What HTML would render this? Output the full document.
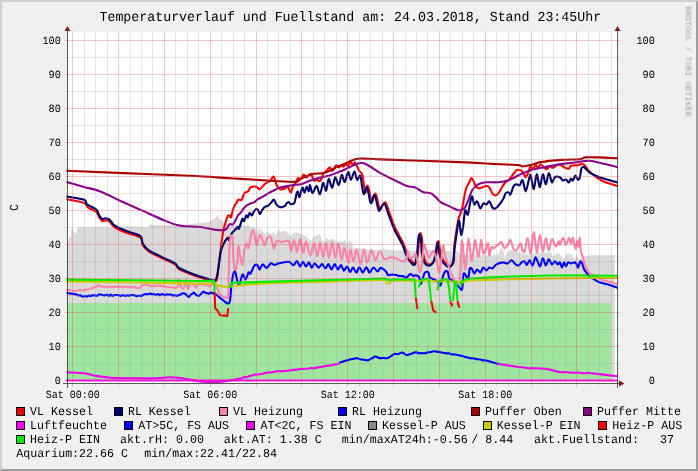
<!DOCTYPE html>
<html><head><meta charset="utf-8"><title>Temperaturverlauf</title>
<style>html,body{margin:0;padding:0;background:#f0f0f0;width:698px;height:471px;overflow:hidden}
text{font-family:"Liberation Mono",monospace}</style></head>
<body>
<div style="position:absolute;left:0;top:0;width:698px;height:471px">
<svg width="698" height="471" viewBox="0 0 698 471" style="display:block;position:absolute;left:0;top:0">
<rect x="0" y="0" width="698" height="471" fill="#f0f0f0"/>
<polygon points="0,0 698,0 696,2 2,2 2,469 0,471" fill="#cfcfcf"/>
<polygon points="698,0 698,471 0,471 2,469 696,469 696,2" fill="#9e9e9e"/>
<rect x="67" y="32" width="551" height="351" fill="#ffffff"/>
<clipPath id="cv"><rect x="66" y="32" width="552" height="352"/></clipPath>
<g clip-path="url(#cv)">
<path d="M67,380.5 L67.0,246.0 L69.2,237.9 L70.5,238.5 L71.4,229.3 L72.6,227.6 L74.3,232.2 L76.0,233.9 L77.2,228.8 L78.3,227.0 L90.0,227.3 L100.0,227.0 L110.0,227.5 L120.0,226.8 L130.0,226.5 L140.0,226.8 L148.0,227.5 L149.6,224.5 L162.9,225.2 L185.8,224.5 L199.6,223.3 L208.8,222.2 L214.5,218.8 L218.0,215.3 L220.2,219.9 L223.7,222.2 L230.0,224.5 L236.3,225.6 L240.9,224.5 L242.4,225.6 L245.5,226.3 L248.1,224.4 L251.3,228.2 L253.2,226.3 L255.7,228.2 L257.0,232.0 L259.5,228.2 L262.1,230.7 L265.3,234.5 L267.2,231.4 L270.4,233.9 L273.5,232.0 L275.5,235.8 L278.6,230.1 L281.2,232.0 L285.0,230.7 L287.5,233.0 L289.0,233.5 L290.0,236.5 L294.5,232.4 L301.0,233.6 L305.0,235.9 L309.5,239.3 L311.0,241.0 L313.5,236.5 L319.8,234.2 L321.5,239.3 L324.4,242.2 L326.1,237.6 L329.0,240.0 L332.4,238.8 L335.8,241.0 L339.3,242.2 L343.9,241.0 L345.6,239.3 L346.7,243.9 L349.6,239.9 L351.9,242.2 L352.8,247.9 L355.9,249.6 L358.8,247.9 L363.8,249.2 L372.9,249.9 L379.8,250.6 L383.2,248.3 L386.7,249.9 L395.8,250.6 L407.3,249.9 L416.5,251.0 L427.9,249.9 L441.7,250.6 L450.9,251.5 L457.7,251.0 L460.0,254.5 L469.2,255.2 L478.4,254.5 L487.5,255.2 L495.0,255.3 L498.7,254.4 L500.6,247.8 L503.4,250.6 L504.7,258.1 L506.5,253.4 L510.8,249.7 L513.6,251.6 L519.2,252.5 L524.8,254.4 L530.4,254.0 L539.7,252.5 L547.2,252.9 L550.9,252.1 L553.1,257.1 L555.5,254.0 L559.3,252.9 L562.0,258.1 L564.8,257.7 L566.7,254.0 L569.5,253.4 L572.3,255.3 L574.2,259.9 L577.0,255.3 L579.7,259.9 L582.5,257.1 L584.4,256.2 L591.9,255.3 L614.8,255.3 L614.8,380.5 Z" fill="#dadada"/>
<rect x="67" y="303" width="544" height="77.5" fill="#9fe59f"/>
<path d="M66.5,199.2 C69.5,199.8 80.6,201.6 84.2,203.0 C87.8,204.4 86.0,206.0 88.0,207.5 C90.0,209.0 94.4,210.3 96.3,212.0 C98.2,213.7 98.3,216.0 99.3,217.5 C100.3,219.0 101.4,220.5 102.4,221.0 C103.4,221.5 104.2,220.4 105.4,220.5 C106.6,220.6 108.1,220.5 109.4,221.5 C110.8,222.5 112.0,225.2 113.5,226.5 C115.0,227.8 116.0,228.3 118.5,229.5 C121.0,230.7 124.9,232.1 128.6,233.5 C132.3,234.9 138.3,236.1 140.7,238.0 C142.7,239.9 141.3,242.8 142.7,245.0 C144.0,247.2 145.1,249.1 148.8,251.5 C152.5,253.9 160.5,257.3 164.9,259.5 C169.3,261.7 172.7,262.9 175.0,264.5 C177.3,266.1 176.7,267.5 179.0,269.0 C181.3,270.5 185.5,272.1 189.0,273.5 C192.5,274.9 196.1,276.2 200.0,277.5 C203.9,278.8 209.5,280.4 212.2,281.0 C214.9,281.6 215.2,281.5 216.0,281.0 C216.8,280.5 216.9,279.5 217.2,278.0 C217.5,276.5 217.7,275.0 218.0,272.0 C218.3,269.0 218.9,263.7 219.3,260.0 C219.8,256.3 220.2,253.4 220.7,249.8 C221.1,246.2 221.5,242.0 222.0,238.4 C222.5,234.8 223.3,231.0 223.9,228.2 C224.5,225.4 225.2,223.8 225.8,221.8 C226.4,219.8 227.1,217.2 227.7,216.1 C228.3,215.0 229.1,215.3 229.6,215.5 C230.1,215.7 230.4,218.2 230.9,217.4 C231.4,216.6 232.2,212.4 232.8,210.4 C233.4,208.4 234.1,206.6 234.7,205.3 C235.3,204.0 236.0,203.7 236.6,202.7 C237.2,201.7 237.8,199.9 238.5,199.5 C239.2,199.1 240.4,200.4 241.1,200.2 C241.8,200.0 241.9,199.5 242.4,198.3 C242.9,197.1 243.6,194.3 244.3,193.2 C245.0,192.1 246.1,192.3 246.8,191.9 C247.5,191.5 248.1,191.4 248.7,190.6 C249.3,189.8 249.2,188.0 250.5,187.3 C251.8,186.7 255.1,186.4 256.6,186.7 C258.1,187.0 258.3,189.7 259.6,189.3 C260.9,188.9 263.2,185.5 264.6,184.3 C266.0,183.1 266.7,183.0 267.7,182.3 C268.7,181.6 269.7,181.2 270.7,180.3 C271.7,179.4 272.7,175.8 273.7,176.6 C274.7,177.4 275.6,183.2 276.7,185.3 C277.8,187.4 278.9,188.4 280.0,189.0 C281.1,189.6 282.4,189.4 283.6,189.0 C284.8,188.6 286.4,186.9 287.2,186.8 C288.0,186.7 288.1,187.3 288.7,188.3 C289.3,189.3 290.1,192.8 290.8,192.6 C291.5,192.3 292.1,188.5 293.0,186.8 C293.9,185.1 295.1,183.9 295.9,182.5 C296.7,181.1 297.2,178.8 298.0,178.2 C298.8,177.6 299.9,179.5 300.9,178.9 C301.9,178.3 302.9,174.8 303.8,174.6 C304.7,174.4 305.3,177.3 306.0,177.5 C306.7,177.7 307.3,176.6 308.1,176.0 C308.9,175.4 310.0,173.2 311.0,173.9 C312.0,174.6 312.9,179.5 313.9,180.4 C314.9,181.3 315.9,179.5 316.8,179.6 C317.7,179.7 318.3,181.1 319.0,181.1 C319.7,181.1 320.4,180.8 321.1,179.6 C321.8,178.4 322.5,175.3 323.3,173.9 C324.1,172.5 325.1,172.1 326.2,171.0 C327.3,169.9 328.9,167.4 329.8,167.4 C330.8,167.4 331.2,170.8 331.9,171.0 C332.6,171.2 333.4,169.8 334.1,168.8 C334.8,167.8 335.5,165.4 336.3,165.2 C337.1,165.0 338.4,167.4 339.2,167.4 C340.0,167.4 340.6,165.3 341.3,165.2 C342.0,165.1 342.8,166.8 343.5,166.6 C344.2,166.4 345.0,163.9 345.7,163.8 C346.4,163.7 347.0,166.2 347.8,165.9 C348.6,165.7 349.9,162.5 350.7,162.3 C351.5,162.1 352.2,164.5 352.9,164.5 C353.6,164.5 354.3,162.0 355.0,162.3 C355.7,162.7 356.5,165.2 357.2,166.6 C357.9,168.0 358.5,169.7 359.4,171.0 C360.2,172.3 361.6,172.4 362.3,174.6 C363.0,176.8 363.3,180.9 363.8,184.0 C364.3,187.1 364.8,192.6 365.4,192.9 C366.0,193.2 366.9,185.6 367.6,185.6 C368.3,185.6 369.0,190.1 369.7,192.9 C370.4,195.7 370.9,202.1 371.9,202.2 C372.9,202.3 374.3,192.8 375.5,193.6 C376.7,194.5 378.3,204.7 379.1,207.3 C379.9,209.9 379.5,210.1 380.5,209.3 C381.5,208.5 383.7,201.6 385.2,202.3 C386.7,203.0 387.9,209.0 389.6,213.4 C391.3,217.8 393.2,223.7 395.6,228.8 C398.0,233.9 401.7,239.7 403.7,244.1 C405.7,248.5 406.2,252.2 407.7,255.2 C409.2,258.2 411.4,260.9 412.8,262.2 C414.2,263.5 415.0,264.5 415.8,263.2 C416.6,261.9 417.1,259.0 417.8,254.1 C418.5,249.2 419.2,236.7 419.9,234.0 C420.6,231.3 421.4,235.0 421.9,238.0 C422.4,241.0 422.2,248.1 422.9,252.1 C423.6,256.1 424.5,260.2 425.9,262.2 C427.2,264.2 429.5,264.7 431.0,264.2 C432.5,263.7 434.0,261.7 435.0,259.2 C436.0,256.7 436.4,252.1 437.0,249.1 C437.6,246.1 438.1,240.8 438.6,241.0 C439.1,241.2 439.4,247.2 440.0,250.1 C440.6,253.0 440.8,255.8 442.0,258.2 C443.2,260.5 445.6,262.9 447.1,264.2 C448.6,265.5 449.9,266.5 451.1,265.8 C452.3,265.1 453.6,262.8 454.1,260.2 C454.0,257.6 454.0,253.4 454.0,250.0 C454.1,246.6 454.3,244.9 455.0,240.0 C455.7,235.1 457.2,224.8 458.1,220.6 C459.0,216.4 459.4,216.6 460.1,214.6 C460.8,212.6 461.3,212.2 462.1,208.5 C462.9,204.8 464.3,196.1 465.1,192.4 C465.9,188.7 466.4,188.0 467.1,186.3 C467.8,184.6 468.5,183.7 469.2,182.3 C469.9,181.0 470.5,178.5 471.2,178.2 C471.9,177.9 472.5,179.1 473.2,180.3 C473.9,181.5 474.4,184.0 475.2,185.3 C476.0,186.6 477.0,188.0 478.2,188.3 C479.4,188.6 480.9,187.7 482.3,187.3 C483.7,186.9 485.1,185.9 486.3,185.9 C487.5,185.9 488.3,186.1 489.3,187.3 C490.3,188.6 491.4,192.1 492.4,193.4 C493.4,194.8 494.4,195.4 495.4,195.4 C496.4,195.4 497.2,194.9 498.4,193.4 C499.6,191.9 501.3,188.2 502.5,186.3 C503.7,184.5 504.5,183.3 505.5,182.3 C506.5,181.3 507.3,181.5 508.5,180.3 C509.7,179.1 511.1,176.9 512.5,175.2 C513.9,173.5 515.2,171.0 516.6,170.2 C518.0,169.4 519.4,169.7 520.6,170.2 C521.8,170.7 522.8,172.0 523.6,173.2 C524.5,174.4 524.9,177.5 525.7,177.2 C526.6,176.9 527.9,173.0 528.7,171.2 C529.5,169.3 530.0,166.4 530.7,166.1 C531.4,165.8 531.9,169.4 532.7,169.2 C533.5,169.0 534.9,165.3 535.7,165.1 C536.6,164.9 536.9,167.9 537.8,167.8 C538.6,167.7 539.8,164.6 540.8,164.5 C541.8,164.4 542.8,166.3 543.8,167.1 C544.8,167.9 545.8,169.4 546.8,169.2 C547.8,169.0 548.9,166.3 549.9,166.1 C550.9,165.9 551.7,168.0 552.9,167.8 C554.1,167.6 555.7,165.6 556.9,165.1 C558.1,164.6 558.6,164.3 560.0,164.7 C561.4,165.1 563.5,167.0 565.0,167.7 C566.5,168.4 567.9,169.0 568.9,168.7 C569.9,168.4 569.4,166.3 570.9,165.7 C572.4,165.1 576.0,165.6 577.8,165.3 C579.6,165.0 580.6,163.7 581.7,163.7 C582.9,163.7 583.5,164.2 584.7,165.3 C585.9,166.5 586.9,168.7 588.7,170.6 C590.5,172.5 593.1,174.8 595.6,176.6 C598.1,178.4 599.9,179.9 603.5,181.5 C607.1,183.1 615.2,185.2 617.5,185.9" fill="none" stroke="#ff0000" stroke-width="2.1" stroke-linejoin="round" />
<path d="M66.5,196.5 C69.5,197.1 80.8,198.5 84.2,199.8 C87.2,201.1 85.2,202.9 87.2,204.5 C89.2,206.1 94.3,207.7 96.3,209.5 C98.3,211.3 98.3,214.0 99.3,215.6 C100.3,217.2 101.4,218.6 102.4,219.0 C103.4,219.4 104.2,218.1 105.4,218.2 C106.6,218.3 108.1,218.5 109.4,219.6 C110.8,220.7 112.0,223.2 113.5,224.6 C115.0,225.9 116.0,226.5 118.5,227.7 C121.0,228.9 124.9,230.3 128.6,231.7 C132.3,233.1 138.3,234.3 140.7,236.3 C142.7,238.3 141.3,241.2 142.7,243.5 C144.0,245.8 145.1,247.8 148.8,250.3 C152.5,252.8 160.5,256.2 164.9,258.4 C169.3,260.6 172.7,261.8 175.0,263.4 C177.3,265.0 176.7,266.4 179.0,267.9 C181.3,269.4 185.5,271.1 189.0,272.5 C192.5,273.9 196.1,275.2 200.0,276.5 C203.9,277.8 209.7,279.3 212.2,280.0 C214.7,280.7 214.4,281.4 215.2,280.6 C216.0,279.9 216.5,278.7 217.2,275.5 C217.9,272.3 218.6,265.8 219.3,261.4 C220.0,257.0 220.5,252.4 221.4,249.2 C222.3,246.0 223.4,244.1 224.5,242.2 C225.6,240.3 226.9,238.0 227.7,237.7 C228.5,237.4 228.7,240.9 229.3,240.3 C229.9,239.7 230.5,235.7 231.5,233.9 C232.5,232.1 234.4,230.7 235.4,229.5 C236.4,228.3 237.1,227.0 237.7,226.9 C238.3,226.8 238.3,229.5 238.9,228.8 C239.5,228.1 240.5,224.2 241.1,222.5 C241.7,220.8 241.9,218.8 242.4,218.6 C242.9,218.4 243.4,221.7 244.0,221.2 C244.6,220.7 245.6,216.1 246.2,215.5 C246.8,214.9 247.2,217.8 247.8,217.4 C248.4,217.0 248.9,213.2 249.6,212.9 C250.3,212.6 251.2,215.7 251.9,215.5 C252.6,215.3 253.1,212.7 253.8,211.6 C254.6,210.5 255.6,209.3 256.4,209.1 C257.1,208.9 257.7,209.6 258.3,210.4 C258.9,211.2 259.2,214.2 259.8,214.2 C260.4,214.2 261.3,211.6 262.1,210.4 C262.9,209.2 263.5,208.0 264.6,207.2 C265.7,206.3 267.3,206.2 268.5,205.3 C269.7,204.5 270.7,203.1 271.6,202.1 C272.5,201.1 273.1,199.2 273.8,199.5 C274.6,199.8 275.3,202.8 276.1,204.0 C276.9,205.2 277.8,206.0 278.6,206.5 C279.5,207.0 280.1,207.3 281.2,207.2 C282.3,207.1 284.1,206.5 285.0,205.9 C285.9,205.3 285.9,204.1 286.5,203.4 C287.1,202.8 288.0,201.9 288.7,202.0 C289.4,202.1 289.9,204.1 290.8,204.2 C291.8,204.3 293.4,204.5 294.4,202.7 C295.4,200.9 296.0,195.1 296.6,193.3 C297.2,191.5 297.5,191.3 298.0,191.9 C298.5,192.5 298.8,197.7 299.5,197.0 C300.2,196.3 301.6,188.3 302.4,187.6 C303.2,186.9 303.8,192.7 304.5,192.6 C305.2,192.5 306.0,187.0 306.7,186.8 C307.4,186.6 308.3,191.5 308.9,191.2 C309.4,190.9 309.4,184.8 310.0,185.1 C310.6,185.4 311.5,193.2 312.6,193.3 C313.7,193.4 315.3,185.8 316.5,185.9 C317.7,186.1 318.9,194.7 320.0,194.2 C321.1,193.7 322.1,183.5 323.1,182.9 C324.1,182.3 325.2,191.3 326.1,190.7 C327.0,190.0 327.7,179.5 328.7,179.0 C329.7,178.5 331.1,188.0 332.2,187.7 C333.3,187.4 334.2,177.6 335.3,177.2 C336.4,176.8 337.6,185.5 338.7,185.1 C339.8,184.7 340.8,175.5 341.8,175.0 C342.8,174.5 343.7,182.5 344.8,182.0 C345.9,181.5 347.2,172.4 348.2,172.0 C349.2,171.6 349.9,179.9 350.9,179.8 C351.9,179.7 353.4,171.6 354.4,171.6 C355.4,171.6 356.1,179.2 357.0,179.8 C357.9,180.5 359.0,175.7 359.7,175.5 C360.4,175.3 360.6,176.4 361.0,178.5 C361.4,180.6 361.8,185.5 362.3,188.1 C362.8,190.7 363.3,194.4 364.0,194.2 C364.7,194.0 365.8,186.8 366.6,186.8 C367.4,186.8 368.0,191.3 368.7,194.1 C369.4,196.9 369.9,203.3 370.9,203.4 C371.9,203.5 373.3,194.0 374.5,194.8 C375.7,195.7 377.3,205.9 378.1,208.5 C378.9,211.1 378.5,211.3 379.5,210.5 C380.5,209.7 382.7,202.8 384.2,203.5 C385.7,204.2 386.9,210.2 388.6,214.6 C390.3,219.0 392.2,224.9 394.6,230.0 C397.0,235.1 400.7,240.9 402.7,245.3 C404.7,249.7 405.2,253.4 406.7,256.4 C408.2,259.4 410.4,262.1 411.8,263.4 C413.2,264.7 414.0,265.8 414.8,264.4 C415.6,263.0 416.1,260.2 416.8,255.3 C417.5,250.4 418.2,237.9 418.9,235.2 C419.6,232.5 420.4,236.2 420.9,239.2 C421.4,242.2 421.2,249.3 421.9,253.3 C422.6,257.3 423.5,261.4 424.9,263.4 C426.2,265.4 428.5,265.9 430.0,265.4 C431.5,264.9 433.0,262.9 434.0,260.4 C435.0,257.9 435.4,253.3 436.0,250.3 C436.6,247.3 437.1,242.0 437.6,242.2 C438.1,242.4 438.4,248.4 439.0,251.3 C439.6,254.2 439.8,257.0 441.0,259.4 C442.2,261.8 444.6,264.1 446.1,265.4 C447.6,266.7 448.9,267.7 450.1,267.0 C451.3,266.3 452.3,265.1 453.1,261.4 C453.9,257.7 454.3,250.1 455.0,245.0 C455.7,239.9 456.4,234.8 457.1,230.7 C457.8,226.6 458.4,219.9 459.1,220.6 C459.8,221.3 460.4,233.7 461.1,234.7 C461.8,235.7 462.4,230.7 463.1,226.7 C463.8,222.7 464.3,212.5 465.1,210.5 C465.9,208.5 467.0,215.9 467.8,214.6 C468.6,213.2 469.5,205.4 470.2,202.4 C470.9,199.4 471.5,196.1 472.2,196.4 C472.9,196.8 473.4,203.7 474.2,204.5 C475.0,205.3 476.2,200.7 477.2,201.4 C478.2,202.1 479.3,208.2 480.3,208.5 C481.3,208.8 482.3,204.2 483.3,203.5 C484.3,202.8 485.3,204.8 486.3,204.5 C487.3,204.2 488.3,200.9 489.3,201.4 C490.3,201.9 491.4,206.3 492.4,207.5 C493.4,208.7 494.2,209.0 495.4,208.5 C496.6,208.0 498.0,206.2 499.4,204.5 C500.8,202.8 502.5,200.2 503.5,198.4 C504.5,196.6 504.7,194.4 505.5,193.4 C506.3,192.4 507.7,192.2 508.5,192.4 C509.3,192.6 509.7,195.4 510.5,194.4 C511.3,193.4 512.5,188.0 513.5,186.3 C514.5,184.6 515.6,184.5 516.6,184.3 C517.6,184.1 518.6,186.0 519.6,185.3 C520.6,184.6 521.6,179.3 522.6,180.3 C523.6,181.3 524.7,191.4 525.7,191.4 C526.7,191.4 527.9,183.0 528.7,180.3 C529.5,177.6 529.9,173.7 530.7,175.2 C531.5,176.7 532.7,189.5 533.7,189.3 C534.7,189.1 535.7,174.5 536.7,174.2 C537.7,173.9 538.8,187.3 539.8,187.3 C540.8,187.3 541.8,174.7 542.8,174.2 C543.8,173.7 544.8,184.5 545.8,184.3 C546.8,184.1 547.8,173.5 548.8,173.2 C549.8,172.9 550.9,181.6 551.9,182.3 C552.9,183.0 553.6,178.0 554.9,177.2 C556.2,176.3 558.5,176.6 559.9,177.2 C561.2,177.8 562.0,180.1 563.0,180.5 C564.0,180.9 564.9,179.2 565.9,179.5 C566.9,179.8 568.1,182.7 568.9,182.5 C569.7,182.3 570.2,178.9 570.9,178.6 C571.6,178.3 572.1,181.0 572.9,180.5 C573.6,180.0 574.6,175.8 575.4,175.6 C576.2,175.4 577.1,179.2 577.8,179.5 C578.5,179.8 579.2,179.4 579.8,177.6 C580.4,175.8 580.8,170.5 581.4,168.7 C582.0,166.9 582.6,166.7 583.3,166.7 C584.0,166.7 584.6,167.7 585.7,168.7 C586.8,169.7 588.1,171.4 589.7,172.6 C591.4,173.8 593.3,174.6 595.6,175.6 C597.9,176.6 599.9,177.4 603.5,178.6 C607.1,179.8 615.2,181.8 617.5,182.5" fill="none" stroke="#00006a" stroke-width="2.1" stroke-linejoin="round" />
<path d="M66.5,289.6 C67.1,289.7 69.1,289.9 70.0,290.1 C70.9,290.3 71.3,290.5 71.9,290.7 C72.5,290.9 73.2,291.2 73.8,291.2 C74.4,291.3 75.1,291.1 75.7,290.9 C76.3,290.7 77.0,290.4 77.6,290.3 C78.2,290.1 78.9,290.1 79.5,290.1 C80.1,290.1 80.8,290.2 81.4,290.3 C82.0,290.3 82.7,290.5 83.3,290.5 C83.9,290.4 84.6,290.0 85.2,289.8 C85.8,289.6 86.5,289.5 87.1,289.4 C87.7,289.3 88.4,289.4 89.0,289.3 C89.6,289.1 90.3,288.8 90.9,288.5 C91.5,288.2 92.2,287.9 92.8,287.7 C93.4,287.5 94.1,287.3 94.7,287.1 C95.3,286.9 96.0,286.8 96.6,286.5 C97.2,286.1 97.9,285.1 98.5,285.1 C99.1,285.1 99.8,286.2 100.4,286.4 C101.0,286.7 101.7,286.5 102.3,286.6 C102.9,286.7 103.6,286.9 104.2,287.0 C104.8,287.0 105.5,287.1 106.1,287.0 C106.7,287.0 107.4,286.7 108.0,286.7 C108.6,286.7 109.3,286.9 109.9,286.9 C110.5,286.8 111.2,286.5 111.8,286.5 C112.4,286.6 113.1,287.2 113.7,287.2 C114.3,287.2 115.0,286.6 115.6,286.5 C116.2,286.4 116.9,286.5 117.5,286.5 C118.1,286.5 118.8,286.6 119.4,286.7 C120.0,286.7 120.7,286.6 121.3,286.7 C121.9,286.7 122.6,287.0 123.2,287.0 C123.8,287.0 124.5,286.8 125.1,286.7 C125.7,286.7 126.4,286.7 127.0,286.8 C127.6,286.8 128.3,287.0 128.9,287.0 C129.5,287.1 130.2,287.0 130.8,287.1 C131.4,287.1 132.1,287.4 132.7,287.5 C133.3,287.5 134.0,287.0 134.6,287.1 C135.2,287.3 135.9,288.1 136.5,288.3 C137.1,288.4 137.8,288.1 138.4,288.0 C139.0,287.9 139.7,288.0 140.3,287.6 C140.9,287.1 141.6,285.6 142.2,285.2 C142.8,284.7 143.5,284.6 144.1,284.6 C144.7,284.5 145.4,284.8 146.0,284.8 C146.6,284.9 147.3,284.6 147.9,284.8 C148.5,285.0 149.2,285.7 149.8,285.9 C150.4,286.1 151.1,286.2 151.7,286.2 C152.3,286.2 153.0,285.8 153.6,285.7 C154.2,285.6 154.9,285.9 155.5,285.8 C156.1,285.8 156.8,285.5 157.4,285.5 C158.0,285.5 158.7,285.5 159.3,285.6 C159.9,285.7 160.6,286.0 161.2,286.1 C161.8,286.1 161.2,285.8 163.1,286.1 C165.7,286.3 174.4,288.6 177.0,287.6 C179.0,286.6 178.3,280.1 179.0,280.0 C179.7,279.9 180.2,285.7 181.0,287.0 C181.8,288.3 183.2,289.2 184.0,288.0 C184.8,286.8 185.3,279.8 186.0,280.0 C186.7,280.2 187.3,288.4 188.0,289.0 C188.7,289.6 189.2,284.4 190.0,283.6 C190.8,282.8 192.0,283.3 193.0,284.0 C194.0,284.7 195.2,287.5 196.0,287.6 C196.8,287.7 196.3,285.1 198.0,284.6 C199.7,284.1 204.0,284.3 206.0,284.6 C208.0,284.9 208.8,287.1 210.0,286.6 C211.2,286.1 212.3,282.1 213.2,281.6 C214.1,281.1 214.0,281.4 215.2,283.6 C216.4,285.8 218.5,292.4 220.3,294.7 C222.2,297.0 225.0,297.7 226.3,297.7 C227.6,297.7 227.9,300.1 228.3,294.7 C228.7,289.3 228.7,273.7 228.9,265.4 C229.1,257.1 229.3,249.6 229.6,244.7 C229.9,239.8 230.5,237.1 230.9,235.8 C231.3,234.5 231.9,235.8 232.2,237.1 C232.5,238.4 232.7,239.8 232.9,243.5 C233.1,247.2 233.0,254.9 233.4,259.4 C233.8,263.9 234.7,270.3 235.4,270.5 C236.1,270.7 236.9,264.4 237.4,260.4 C237.9,256.4 238.0,247.2 238.4,246.3 C238.8,245.5 239.3,252.3 240.0,255.3 C240.7,258.3 241.8,265.4 242.5,264.4 C243.2,263.4 243.8,252.8 244.5,249.3 C245.2,245.8 245.8,243.4 246.5,243.2 C247.2,243.0 247.8,249.3 248.5,248.3 C249.2,247.3 249.8,240.2 250.5,237.2 C251.2,234.2 251.8,230.4 252.5,230.1 C253.2,229.8 253.9,232.7 254.6,235.2 C255.3,237.7 255.8,245.3 256.6,245.3 C257.4,245.3 258.6,236.0 259.6,235.2 C260.6,234.3 261.8,238.5 262.6,240.2 C263.4,241.9 263.9,245.5 264.6,245.3 C265.3,245.1 265.7,240.5 266.7,239.2 C267.7,237.8 269.5,235.7 270.7,237.2 C271.9,238.7 272.7,247.6 273.7,248.3 C274.7,249.0 275.3,242.2 276.7,241.2 C278.1,240.1 280.0,242.0 282.0,242.0 C284.0,242.0 287.3,239.6 288.8,241.2 C290.3,242.8 290.2,251.6 291.1,251.4 C292.0,251.2 293.0,239.8 294.0,239.9 C295.0,240.0 296.1,252.1 297.1,251.9 C298.1,251.7 299.1,238.7 300.1,238.8 C301.1,238.9 302.2,252.0 303.2,252.5 C304.2,253.0 304.8,241.1 306.0,241.6 C307.2,242.1 309.2,255.5 310.6,255.7 C312.0,255.9 313.0,242.7 314.1,242.8 C315.2,242.9 316.3,256.5 317.3,256.5 C318.3,256.5 319.0,242.7 320.0,242.8 C321.0,242.9 322.2,257.1 323.2,257.1 C324.2,257.1 325.1,242.7 326.1,242.8 C327.1,243.0 328.0,258.1 329.0,258.0 C330.0,257.9 331.1,242.5 332.2,242.4 C333.2,242.3 334.3,257.4 335.3,257.7 C336.3,257.9 337.3,243.6 338.4,243.9 C339.4,244.2 340.6,258.7 341.6,259.4 C342.6,260.1 343.2,247.3 344.4,247.9 C345.5,248.5 347.5,262.5 348.5,262.8 C349.5,263.1 349.5,249.8 350.4,249.6 C351.2,249.4 352.6,261.8 353.6,261.7 C354.6,261.6 355.4,248.6 356.5,249.1 C357.6,249.6 359.3,264.4 360.5,264.5 C361.7,264.6 362.8,249.9 363.9,249.6 C365.0,249.3 365.8,262.7 367.0,262.8 C368.2,262.9 370.0,250.7 371.4,250.3 C372.8,249.9 374.1,260.2 375.5,260.4 C376.9,260.6 378.0,251.5 379.5,251.3 C381.0,251.1 382.9,258.4 384.6,259.4 C386.3,260.4 387.9,257.7 389.6,257.4 C391.3,257.1 392.4,257.1 394.6,257.8 C396.8,258.5 400.7,261.3 402.7,261.4 C404.7,261.5 405.8,260.1 406.7,258.4 C407.6,256.7 407.3,251.3 407.8,251.3 C408.3,251.3 408.8,257.5 409.8,258.4 C410.8,259.2 412.8,257.1 413.8,256.4 C414.8,255.7 415.1,253.1 415.8,254.3 C416.5,255.5 417.1,260.4 417.8,263.4 C418.5,266.4 419.2,272.3 419.9,272.5 C420.6,272.7 421.2,268.9 421.9,264.4 C422.6,259.9 423.2,247.8 423.9,245.3 C424.6,242.8 425.1,247.3 425.9,249.3 C426.7,251.3 427.7,257.1 428.9,257.4 C430.1,257.7 431.8,251.3 433.0,251.3 C434.2,251.3 435.0,253.9 436.0,257.4 C437.0,260.9 438.2,271.8 439.0,272.5 C439.8,273.2 440.3,265.9 441.0,261.4 C441.7,256.9 442.4,246.3 443.1,245.3 C443.8,244.3 444.1,251.6 445.1,255.3 C446.1,259.0 447.9,264.1 449.1,267.5 C450.3,270.9 451.1,273.1 452.1,275.5 C453.1,277.9 454.0,280.4 455.2,281.6 C456.4,282.8 458.2,285.3 459.1,282.6 C460.0,279.9 460.1,272.3 460.5,265.4 C460.9,258.5 461.3,244.0 461.7,241.2 C462.1,238.3 462.5,243.6 463.1,248.3 C463.7,253.0 464.4,269.0 465.1,269.5 C465.8,270.0 466.5,256.5 467.1,251.3 C467.7,246.1 468.1,238.2 468.6,238.2 C469.1,238.2 469.7,247.6 470.2,251.3 C470.7,255.0 471.2,260.9 471.8,260.4 C472.4,259.9 473.2,251.7 473.8,248.3 C474.4,244.9 474.6,239.5 475.2,240.2 C475.8,240.9 476.6,249.6 477.2,252.3 C477.8,255.0 478.1,257.6 478.6,256.4 C479.1,255.2 479.9,248.0 480.3,245.3 C480.8,242.6 480.8,238.9 481.3,240.2 C481.8,241.5 482.5,251.8 483.3,253.3 C484.1,254.8 485.1,251.0 485.9,249.3 C486.7,247.6 487.3,242.2 487.9,243.2 C488.5,244.2 488.7,254.6 489.3,255.3 C489.9,256.0 490.7,248.5 491.4,247.3 C492.1,246.1 492.2,248.8 493.4,248.3 C494.6,247.8 497.1,245.3 498.4,244.3 C499.7,243.3 500.4,241.5 501.4,242.2 C502.4,242.9 503.5,247.8 504.5,248.3 C505.5,248.8 506.5,246.7 507.5,245.3 C508.5,244.0 509.5,239.5 510.5,240.2 C511.5,240.9 512.5,247.6 513.5,249.3 C514.5,251.0 515.4,251.3 516.6,250.3 C517.8,249.3 519.6,243.2 520.6,243.2 C521.6,243.2 521.9,249.0 522.6,250.3 C523.3,251.7 523.8,253.3 524.6,251.3 C525.5,249.3 526.7,237.9 527.7,238.2 C528.7,238.5 529.7,254.3 530.7,253.3 C531.7,252.3 532.7,232.3 533.7,232.1 C534.7,231.9 535.7,251.8 536.7,252.3 C537.7,252.8 538.8,235.4 539.8,235.2 C540.8,235.0 541.8,250.8 542.8,251.3 C543.8,251.8 544.8,238.4 545.8,238.2 C546.8,238.0 547.8,250.1 548.8,250.3 C549.8,250.5 550.7,239.9 551.9,239.2 C553.1,238.5 554.7,246.0 555.9,246.3 C557.1,246.6 558.2,241.4 558.9,241.2 C559.6,240.9 559.3,245.4 560.0,244.8 C560.7,244.2 562.0,237.9 563.0,237.9 C564.0,237.9 564.9,244.8 565.9,244.8 C566.9,244.8 568.1,238.1 568.9,237.9 C569.7,237.7 570.2,243.8 570.9,243.8 C571.6,243.8 572.1,237.1 572.9,237.9 C573.6,238.7 574.6,248.2 575.4,248.7 C576.1,249.2 576.8,241.1 577.4,240.8 C578.0,240.5 578.4,247.2 578.8,246.7 C579.2,246.2 579.5,237.2 579.8,237.9 C580.1,238.6 580.3,247.6 580.8,250.7 C581.3,253.8 582.1,254.3 582.7,256.6 C583.4,258.9 583.7,261.9 584.7,264.5 C585.7,267.1 586.9,270.4 588.7,272.4 C590.5,274.4 593.1,275.1 595.6,276.4 C598.1,277.7 600.9,279.4 603.5,280.4 C606.1,281.4 609.1,281.6 611.4,282.3 C613.7,283.0 616.5,284.0 617.5,284.3" fill="none" stroke="#ff82a8" stroke-width="2.1" stroke-linejoin="round" />
<path d="M66.5,292.7 C67.9,293.0 73.3,294.0 75.0,294.3 C76.7,294.5 76.1,294.2 76.7,294.4 C77.3,294.6 77.8,295.4 78.4,295.5 C79.0,295.7 79.5,295.0 80.1,295.1 C80.7,295.3 81.2,296.0 81.8,296.2 C82.4,296.4 82.9,296.4 83.5,296.4 C84.1,296.4 84.6,296.0 85.2,296.0 C85.8,296.0 86.3,296.5 86.9,296.5 C87.5,296.4 88.0,295.7 88.6,295.6 C89.2,295.6 89.7,296.1 90.3,296.1 C90.9,296.0 91.4,295.5 92.0,295.4 C92.6,295.3 93.1,295.2 93.7,295.2 C94.3,295.2 94.8,295.4 95.4,295.5 C96.0,295.6 96.5,295.9 97.1,295.8 C97.7,295.7 98.2,294.8 98.8,294.6 C99.4,294.4 99.9,294.5 100.5,294.5 C101.1,294.6 101.6,294.7 102.2,294.9 C102.8,295.0 103.3,295.4 103.9,295.4 C104.5,295.5 105.0,295.1 105.6,295.0 C106.2,294.9 106.7,294.8 107.3,294.9 C107.9,295.0 108.4,295.8 109.0,295.8 C109.6,295.8 110.1,294.6 110.7,294.6 C111.3,294.6 111.8,295.8 112.4,295.8 C113.0,295.9 113.5,295.3 114.1,295.2 C114.7,295.0 115.2,295.0 115.8,295.0 C116.4,295.0 116.9,294.9 117.5,295.0 C118.1,295.0 118.6,295.1 119.2,295.2 C119.8,295.4 120.3,296.0 120.9,295.9 C121.5,295.9 122.0,295.1 122.6,295.1 C123.2,295.0 123.7,295.5 124.3,295.6 C124.9,295.7 125.4,295.7 126.0,295.7 C126.6,295.6 127.1,295.3 127.7,295.3 C128.3,295.3 128.8,295.7 129.4,295.6 C130.0,295.6 130.5,295.1 131.1,295.0 C131.7,294.9 132.2,295.0 132.8,295.1 C133.4,295.1 133.9,295.2 134.5,295.3 C135.1,295.5 135.6,296.0 136.2,296.1 C136.8,296.1 137.3,295.9 137.9,295.8 C138.5,295.7 139.0,295.7 139.6,295.7 C140.2,295.7 140.7,296.0 141.3,295.9 C141.9,295.8 142.4,295.3 143.0,295.1 C143.6,294.8 144.1,294.3 144.7,294.2 C145.3,294.0 145.8,294.2 146.4,294.2 C147.0,294.2 147.5,294.2 148.1,294.1 C148.7,293.9 149.2,293.5 149.8,293.5 C150.4,293.5 150.9,294.0 151.5,294.1 C152.1,294.2 152.6,294.0 153.2,294.1 C153.8,294.2 154.3,294.6 154.9,294.7 C155.5,294.8 156.0,294.7 156.6,294.6 C157.2,294.5 157.7,294.0 158.3,294.1 C158.9,294.2 159.4,295.2 160.0,295.2 C160.6,295.2 161.1,294.1 161.7,294.0 C162.3,293.9 162.8,294.4 163.4,294.5 C164.0,294.7 164.5,295.1 165.1,295.1 C165.7,295.0 166.2,294.3 166.8,294.3 C167.4,294.3 167.9,294.8 168.5,294.8 C169.1,294.8 169.6,294.2 170.2,294.3 C170.8,294.4 171.3,295.0 171.9,295.2 C172.5,295.4 173.0,295.4 173.6,295.4 C174.2,295.4 174.7,295.2 175.3,295.2 C175.9,295.3 176.4,295.8 177.0,295.7 C177.6,295.7 178.1,295.2 178.7,295.0 C179.3,294.8 179.8,294.9 180.4,294.7 C181.0,294.4 181.5,293.6 182.1,293.4 C182.7,293.2 183.2,293.2 183.8,293.3 C184.4,293.4 184.9,293.7 185.5,294.1 C186.1,294.5 186.6,295.2 187.2,295.7 C187.8,296.1 188.3,297.0 188.9,296.9 C189.5,296.7 190.0,295.4 190.6,294.8 C191.2,294.3 191.7,293.9 192.3,293.6 C192.9,293.2 193.4,292.5 194.0,292.7 C194.6,292.9 195.1,294.1 195.7,294.6 C196.3,295.1 196.8,295.4 197.4,295.5 C198.0,295.7 198.5,295.9 199.1,295.7 C199.7,295.4 200.2,294.8 200.8,294.3 C201.4,293.7 201.9,292.8 202.5,292.4 C203.1,292.0 203.6,291.5 204.2,291.7 C204.8,291.8 205.3,292.8 205.9,293.1 C206.5,293.3 207.0,293.1 207.6,293.2 C208.2,293.3 208.7,293.7 209.3,293.6 C209.9,293.5 209.8,292.5 211.0,292.6 C212.1,292.8 214.3,293.5 216.2,294.7 C218.1,295.9 220.1,298.3 222.3,299.7 C224.5,301.1 227.8,305.1 229.3,302.8 C230.8,300.5 230.7,290.5 231.4,285.6 C232.1,280.7 232.7,275.7 233.4,273.5 C234.1,271.3 234.7,271.1 235.4,272.5 C236.1,273.9 236.7,279.6 237.4,281.6 C238.1,283.6 238.6,285.8 239.4,284.6 C240.2,283.4 241.5,275.3 242.5,274.5 C243.5,273.7 244.5,279.9 245.5,279.6 C246.5,279.3 247.7,273.5 248.5,272.5 C249.3,271.5 249.5,274.7 250.5,273.5 C251.5,272.3 253.4,266.8 254.6,265.4 C255.8,264.0 256.8,264.7 257.6,265.4 C258.4,266.1 258.8,269.7 259.6,269.5 C260.4,269.3 261.4,264.7 262.6,264.4 C263.8,264.1 265.4,268.1 266.7,267.9 C268.0,267.7 269.4,263.9 270.7,263.4 C272.0,262.9 273.3,265.0 274.7,265.0 C276.1,265.0 276.4,263.9 278.8,263.4 C281.2,262.9 286.4,261.5 288.8,261.8 C291.2,262.1 292.0,265.4 293.4,265.3 C294.8,265.2 295.8,260.9 296.9,261.1 C298.0,261.3 299.1,266.4 300.1,266.5 C301.1,266.6 301.8,261.7 302.8,261.7 C303.8,261.7 305.0,266.4 306.0,266.5 C307.0,266.6 307.9,262.0 308.9,262.2 C309.9,262.4 310.9,267.4 311.8,267.6 C312.8,267.8 313.5,263.4 314.6,263.4 C315.8,263.4 317.4,267.5 318.7,267.6 C319.9,267.7 321.0,263.9 322.1,264.0 C323.2,264.1 324.4,268.3 325.5,268.3 C326.6,268.3 327.4,263.8 328.4,264.0 C329.4,264.2 330.4,269.5 331.5,269.5 C332.6,269.5 333.6,264.0 334.7,264.0 C335.8,264.0 336.8,269.3 337.9,269.5 C338.9,269.7 340.0,264.9 341.0,265.1 C342.0,265.3 342.9,270.6 343.9,270.8 C344.9,271.0 345.9,266.3 347.0,266.5 C348.1,266.7 349.2,272.0 350.2,272.2 C351.2,272.4 351.9,267.5 353.0,267.6 C354.1,267.7 355.4,272.7 356.5,272.6 C357.6,272.5 358.2,267.2 359.3,267.2 C360.4,267.2 361.7,272.6 362.8,272.6 C363.9,272.6 365.1,267.3 366.2,267.2 C367.2,267.1 368.4,271.4 369.1,272.2 C369.8,273.0 369.7,272.7 370.4,271.9 C371.1,271.1 372.3,267.6 373.5,267.5 C374.7,267.4 376.3,271.4 377.5,271.5 C378.7,271.6 379.3,268.1 380.5,267.9 C381.7,267.7 383.6,269.3 384.6,270.0 C385.6,270.7 385.7,271.3 386.3,272.1 C386.9,272.9 387.4,274.6 388.0,275.1 C388.6,275.5 389.1,274.9 389.7,274.9 C390.3,274.8 390.8,274.8 391.4,274.7 C392.0,274.7 392.5,274.6 393.1,274.6 C393.7,274.7 394.2,275.0 394.8,275.0 C395.4,275.1 395.9,274.7 396.5,274.8 C397.1,275.0 397.6,275.7 398.2,275.9 C398.8,276.1 399.3,275.8 399.9,275.9 C400.5,275.9 401.0,276.0 401.6,276.1 C402.2,276.1 402.7,276.0 403.3,276.2 C403.9,276.4 404.4,276.9 405.0,277.1 C405.6,277.3 406.1,277.5 406.7,277.2 C407.3,277.0 407.8,276.3 408.4,275.7 C409.0,275.2 409.5,274.2 410.1,274.0 C410.7,273.8 411.2,274.4 411.8,274.7 C412.4,275.1 412.9,276.1 413.5,276.2 C414.1,276.3 414.3,275.3 415.2,275.4 C416.1,275.4 417.9,275.2 418.9,276.6 C419.9,278.0 420.1,284.5 421.0,283.9 C421.9,283.3 423.4,274.9 424.6,273.0 C425.8,271.1 427.5,271.6 428.3,272.3 C429.1,273.0 428.9,276.3 429.7,277.4 C430.5,278.5 431.7,278.3 433.0,279.0 C434.3,279.7 436.4,280.6 437.6,281.7 C438.9,282.8 439.4,286.8 440.5,285.3 C441.6,283.9 442.9,275.3 444.1,273.0 C445.3,270.7 446.9,270.8 447.7,271.6 C448.5,272.5 448.2,276.4 449.2,278.1 C450.2,279.8 451.8,280.1 453.5,281.7 C455.2,283.3 457.9,286.3 459.3,287.5 C460.8,288.7 461.5,291.2 462.2,288.9 C462.9,286.6 462.9,275.9 463.6,273.8 C464.3,271.8 465.7,275.6 466.5,276.6 C467.3,277.6 467.6,281.0 468.2,279.6 C468.8,278.2 469.1,270.2 469.8,268.5 C470.5,266.8 471.5,268.7 472.2,269.5 C472.9,270.3 473.4,273.5 474.2,273.5 C475.0,273.5 476.2,269.7 477.2,269.5 C478.2,269.3 479.3,272.8 480.3,272.5 C481.3,272.2 482.3,267.8 483.3,267.5 C484.3,267.2 485.3,270.5 486.3,270.5 C487.3,270.5 488.3,267.8 489.3,267.5 C490.3,267.2 491.2,269.0 492.4,268.5 C493.6,268.0 494.7,265.4 496.4,264.4 C498.1,263.4 500.6,262.6 502.5,262.4 C504.4,262.2 506.0,263.7 507.5,263.4 C509.0,263.1 510.1,260.2 511.5,260.4 C512.9,260.6 514.4,263.6 515.6,264.4 C516.8,265.2 517.6,265.7 518.6,265.4 C519.6,265.1 520.6,263.1 521.6,262.4 C522.6,261.7 523.8,261.0 524.6,261.4 C525.5,261.8 525.9,265.2 526.7,265.0 C527.6,264.8 528.7,260.3 529.7,260.4 C530.7,260.5 531.7,265.9 532.7,265.4 C533.7,264.9 534.5,257.2 535.7,257.4 C536.9,257.6 538.6,266.2 539.8,266.4 C541.0,266.6 541.8,258.6 542.8,258.4 C543.8,258.2 544.8,265.2 545.8,265.4 C546.8,265.6 547.8,259.6 548.8,259.4 C549.8,259.2 550.9,264.1 551.9,264.4 C552.9,264.7 553.9,261.4 554.9,261.4 C555.9,261.4 557.1,264.2 557.9,264.4 C558.7,264.6 559.2,261.9 559.9,262.4 C560.6,262.9 561.3,267.5 562.0,267.5 C562.7,267.5 563.3,262.6 564.0,262.4 C564.7,262.2 565.3,266.4 566.0,266.4 C566.7,266.4 567.2,262.9 568.0,262.4 C568.8,261.9 570.0,263.4 571.0,263.4 C572.0,263.4 573.2,262.4 574.1,262.4 C575.0,262.4 575.4,262.5 576.1,263.4 C576.8,264.2 577.4,267.8 578.1,267.5 C578.8,267.2 579.4,262.1 580.1,261.4 C580.8,260.7 581.4,262.0 582.1,263.4 C582.8,264.8 583.1,267.5 584.2,269.5 C585.3,271.5 587.3,273.9 588.7,275.4 C590.1,276.9 590.8,277.2 592.6,278.4 C594.4,279.5 597.0,281.3 599.5,282.3 C602.0,283.3 604.4,283.4 607.4,284.3 C610.4,285.2 615.8,287.3 617.5,287.9" fill="none" stroke="#0000ff" stroke-width="2.1" stroke-linejoin="round" />
<path d="M66.5,170.8 C77.1,171.2 109.4,172.6 130.0,173.4 C150.6,174.2 173.3,175.0 190.0,175.8 C206.7,176.6 216.6,177.4 230.0,178.2 C243.4,179.0 259.7,180.1 270.7,180.7 C281.7,181.3 291.0,182.1 295.9,181.8 C300.2,181.5 298.5,179.8 300.2,178.9 C301.9,178.0 303.8,177.3 306.0,176.5 C308.2,175.7 310.3,174.5 313.2,173.9 C316.1,173.3 320.6,173.6 323.3,173.1 C326.0,172.6 326.7,172.1 329.1,171.0 C331.5,169.9 335.1,167.8 337.7,166.6 C340.3,165.4 342.5,164.9 344.9,163.8 C347.3,162.7 350.0,161.0 352.2,160.2 C354.4,159.3 355.5,158.9 357.9,158.7 C360.3,158.4 362.9,158.6 366.6,158.7 C370.3,158.8 366.6,158.8 380.0,159.4 C395.6,160.0 441.6,161.4 460.0,162.1 C478.4,162.8 480.5,163.2 490.3,163.7 C500.1,164.2 513.2,164.6 518.6,165.1 C522.6,165.6 520.6,166.5 522.6,166.5 C524.6,166.5 527.7,165.8 530.7,165.1 C533.7,164.4 535.8,163.0 540.8,162.1 C545.8,161.2 554.5,160.4 561.0,159.9 C567.5,159.4 575.7,159.6 579.8,159.2 C583.9,158.8 582.4,157.7 585.7,157.4 C589.0,157.1 594.2,157.3 599.5,157.4 C604.8,157.5 614.5,158.1 617.5,158.2" fill="none" stroke="#aa0000" stroke-width="2.1" stroke-linejoin="round" />
<path d="M66.5,182.0 C69.5,182.8 78.6,185.3 84.2,186.9 C89.8,188.5 94.6,189.2 100.3,191.4 C106.0,193.6 111.8,196.9 118.5,200.0 C125.2,203.1 133.0,206.5 140.7,209.9 C148.4,213.3 158.8,218.1 164.9,220.6 C171.0,223.1 173.7,224.1 177.0,225.0 C180.3,225.9 181.2,226.0 185.0,226.3 C188.8,226.6 195.0,226.4 200.0,227.0 C205.0,227.6 211.0,229.2 215.0,229.7 C219.0,230.2 221.9,230.3 223.9,230.1 C225.9,229.8 226.2,229.2 227.1,228.2 C228.0,227.2 228.6,224.7 229.6,224.1 C230.6,223.5 231.8,225.0 232.8,224.4 C233.8,223.8 234.6,222.0 235.4,220.5 C236.2,219.0 237.1,216.8 237.9,215.5 C238.8,214.2 239.6,214.1 240.5,212.9 C241.4,211.7 242.5,209.8 243.6,208.5 C244.7,207.2 245.6,206.2 246.8,205.3 C248.0,204.5 249.3,203.9 250.6,203.4 C251.9,202.9 253.2,202.8 254.5,202.1 C255.8,201.3 256.8,199.8 258.3,198.9 C259.8,198.0 261.7,197.4 263.4,196.4 C265.1,195.4 266.6,194.3 268.5,193.2 C270.4,192.1 272.9,190.9 274.8,190.0 C276.7,189.1 277.2,188.4 280.0,187.6 C282.8,186.8 287.9,186.0 291.5,185.4 C295.1,184.8 298.7,184.7 301.6,184.0 C304.5,183.3 306.2,182.1 308.9,181.1 C311.5,180.1 314.4,179.0 317.5,178.2 C320.6,177.3 324.2,177.0 327.6,176.0 C331.0,175.0 334.8,173.5 337.7,172.4 C340.6,171.3 342.5,170.6 344.9,169.5 C347.3,168.4 350.0,166.9 352.2,165.9 C354.4,164.9 356.2,164.0 357.9,163.5 C359.6,163.0 360.9,162.8 362.3,163.0 C363.8,163.2 364.7,163.5 366.6,164.5 C368.5,165.5 371.5,167.4 373.8,168.8 C376.1,170.2 377.0,171.3 380.5,173.2 C384.0,175.1 390.2,178.2 394.6,180.3 C399.0,182.4 403.3,184.7 406.7,185.9 C410.1,187.1 412.1,186.3 414.8,187.3 C417.5,188.3 420.2,191.0 422.9,192.0 C425.6,193.0 428.8,192.5 431.0,193.4 C433.2,194.3 434.3,195.9 436.0,197.4 C437.7,198.9 438.8,201.0 441.0,202.4 C443.2,203.8 446.9,205.1 449.1,206.1 C451.3,207.1 452.3,207.8 454.0,208.5 C455.7,209.2 457.4,210.5 459.1,210.5 C460.8,210.5 462.6,210.2 464.1,208.5 C465.6,206.8 466.9,203.4 468.2,200.4 C469.5,197.4 470.5,193.0 472.2,190.3 C473.9,187.6 475.8,185.6 478.2,184.3 C480.6,183.0 482.9,182.6 486.3,182.3 C489.7,182.0 494.7,182.6 498.4,182.3 C502.1,182.0 505.1,181.5 508.5,180.3 C511.9,179.1 514.9,176.9 518.6,175.2 C522.3,173.5 526.3,171.5 530.7,170.2 C535.1,168.8 539.8,168.1 544.8,167.1 C549.8,166.1 556.0,164.9 561.0,164.1 C566.0,163.3 570.5,163.1 575.1,162.5 C579.7,161.9 584.6,160.8 588.7,160.8 C592.8,160.8 594.7,161.6 599.5,162.7 C604.3,163.8 614.5,166.4 617.5,167.1" fill="none" stroke="#8b008b" stroke-width="2.1" stroke-linejoin="round" />
<line x1="66" y1="380.6" x2="617.5" y2="380.6" stroke="#ff00ff" stroke-width="2"/>
<path d="M339.2,362.7 C340.4,362.4 344.7,361.1 346.2,360.6 C347.7,360.2 347.7,360.3 348.4,360.1 C349.1,359.8 349.9,359.5 350.6,359.3 C351.3,359.1 352.1,359.0 352.8,358.9 C353.5,358.8 354.3,358.6 355.0,358.5 C355.7,358.4 356.5,358.1 357.2,358.2 C357.9,358.3 358.7,358.8 359.4,359.0 C360.1,359.2 360.9,359.4 361.6,359.5 C362.3,359.7 363.1,359.7 363.8,359.8 C364.5,359.9 365.3,360.0 366.0,360.1 C366.7,360.2 367.5,360.5 368.2,360.3 C368.9,360.0 369.7,359.2 370.4,358.9 C371.1,358.5 371.9,358.5 372.6,358.1 C373.3,357.7 374.1,356.6 374.8,356.5 C375.5,356.3 376.3,356.8 377.0,357.0 C377.7,357.3 378.5,357.9 379.2,358.1 C379.9,358.2 380.7,358.1 381.4,358.1 C382.1,358.1 382.9,357.9 383.6,358.0 C384.3,358.0 385.1,358.3 385.8,358.3 C386.5,358.3 387.3,358.3 388.0,358.0 C388.7,357.7 389.5,357.0 390.2,356.6 C390.9,356.1 391.7,355.7 392.4,355.2 C393.1,354.8 393.9,354.1 394.6,353.9 C395.3,353.7 396.1,354.2 396.8,354.1 C397.5,354.1 398.3,353.9 399.0,353.7 C399.7,353.4 400.5,352.9 401.2,352.8 C401.9,352.6 402.7,352.6 403.4,352.9 C404.1,353.2 404.9,354.3 405.6,354.6 C406.3,355.0 407.1,355.1 407.8,355.0 C408.5,354.9 409.3,354.3 410.0,354.0 C410.7,353.8 411.5,353.7 412.2,353.5 C412.9,353.2 413.7,352.6 414.4,352.4 C415.1,352.2 415.9,352.2 416.6,352.3 C417.3,352.5 418.1,353.1 418.8,353.2 C419.5,353.4 420.3,353.1 421.0,353.1 C421.7,353.1 422.5,353.2 423.2,353.2 C423.9,353.2 424.7,353.4 425.4,353.2 C426.1,353.1 426.9,352.5 427.6,352.3 C428.3,352.2 429.1,352.3 429.8,352.2 C430.5,352.1 431.3,351.9 432.0,351.7 C432.7,351.5 433.5,351.2 434.2,351.2 C434.9,351.1 435.7,351.4 436.4,351.6 C437.1,351.7 437.9,351.8 438.6,352.0 C439.3,352.1 440.1,352.1 440.8,352.3 C441.5,352.4 442.3,352.8 443.0,352.9 C443.7,353.0 444.5,352.9 445.2,353.0 C445.9,353.1 446.7,353.4 447.4,353.4 C448.1,353.5 448.9,353.3 449.6,353.5 C450.3,353.7 451.1,354.3 451.8,354.4 C452.5,354.6 453.3,354.2 454.0,354.3 C454.7,354.3 455.5,354.5 456.2,354.7 C456.9,354.8 457.7,354.9 458.4,355.1 C459.1,355.2 459.9,355.5 460.6,355.7 C461.3,355.9 462.1,355.7 462.8,356.0 C463.5,356.2 464.3,356.8 465.0,357.0 C465.7,357.2 466.5,357.2 467.2,357.3 C467.9,357.5 468.7,357.8 469.4,358.0 C470.1,358.2 470.9,358.4 471.6,358.4 C472.3,358.5 473.1,358.3 473.8,358.4 C474.5,358.5 475.3,358.9 476.0,359.1 C476.7,359.2 477.5,359.1 478.2,359.2 C478.9,359.2 479.7,359.2 480.4,359.4 C481.1,359.6 481.9,360.2 482.6,360.4 C483.3,360.5 482.6,359.6 484.8,360.2 C487.4,360.8 496.1,363.3 498.4,363.9" fill="none" stroke="#0000ff" stroke-width="2.1" stroke-linejoin="round" />
<path d="M66.5,372.3 C69.5,372.5 79.2,372.7 84.2,373.3 C89.2,373.9 91.9,375.2 96.3,375.9 C100.7,376.6 103.0,377.3 110.4,377.7 C117.8,378.1 133.0,378.2 140.7,378.3 C148.4,378.4 151.8,378.5 156.8,378.3 C161.9,378.1 166.3,377.2 171.0,377.3 C175.7,377.4 180.2,378.0 185.0,378.7 C189.8,379.4 195.8,380.8 200.0,381.4 C204.2,381.9 206.1,382.0 210.2,382.0 C214.2,382.0 219.3,382.0 224.3,381.4 C229.3,380.8 237.4,379.3 240.4,378.6 C242.4,378.0 241.7,377.9 242.4,377.7 C243.1,377.4 243.7,377.2 244.4,377.1 C245.1,377.0 245.7,377.3 246.4,377.2 C247.1,377.1 247.7,376.7 248.4,376.4 C249.1,376.2 249.7,375.8 250.4,375.7 C251.1,375.5 251.7,375.6 252.4,375.5 C253.1,375.3 253.7,374.8 254.4,374.6 C255.1,374.4 255.7,374.5 256.4,374.5 C257.1,374.4 257.7,374.5 258.4,374.5 C259.1,374.4 259.7,374.2 260.4,374.1 C261.1,374.0 261.7,373.8 262.4,373.7 C263.1,373.5 263.7,373.2 264.4,373.1 C265.1,372.9 265.7,373.0 266.4,372.8 C267.1,372.7 267.7,372.5 268.4,372.4 C269.1,372.4 269.7,372.6 270.4,372.5 C271.1,372.5 271.7,372.2 272.4,372.1 C273.1,372.0 273.7,372.1 274.4,371.9 C275.1,371.8 275.7,371.5 276.4,371.3 C277.1,371.2 277.7,371.1 278.4,371.1 C279.1,371.1 279.7,371.3 280.4,371.3 C281.1,371.3 281.7,371.3 282.4,371.2 C283.1,371.2 283.7,371.1 284.4,371.0 C285.1,370.9 285.7,370.8 286.4,370.8 C287.1,370.7 287.7,370.7 288.4,370.6 C289.1,370.5 289.7,370.5 290.4,370.4 C291.1,370.3 291.7,369.9 292.4,369.9 C293.1,369.8 293.7,369.9 294.4,369.9 C295.1,369.8 295.7,369.7 296.4,369.6 C297.1,369.5 297.7,369.3 298.4,369.2 C299.1,369.1 299.7,369.1 300.4,369.0 C301.1,369.0 301.7,369.0 302.4,369.0 C303.1,368.9 303.7,368.7 304.4,368.7 C305.1,368.7 305.7,368.7 306.4,368.7 C307.1,368.7 307.7,368.8 308.4,368.7 C309.1,368.5 309.7,368.1 310.4,368.0 C311.1,368.0 311.7,368.2 312.4,368.2 C313.1,368.2 313.7,368.1 314.4,368.1 C315.1,368.0 315.7,368.0 316.4,367.9 C317.1,367.8 317.7,367.5 318.4,367.3 C319.1,367.2 319.7,367.1 320.4,367.0 C321.1,366.9 321.7,366.8 322.4,366.6 C323.1,366.5 323.7,366.3 324.4,366.2 C325.1,366.1 325.7,365.9 326.4,365.8 C327.1,365.7 326.4,366.1 328.4,365.7 C330.7,365.3 338.2,363.7 340.2,363.3" fill="none" stroke="#ee00ee" stroke-width="2.1" stroke-linejoin="round" />
<path d="M498.4,363.9 C501.4,364.4 513.2,366.2 516.6,366.7 C518.8,367.2 518.1,367.0 518.8,367.1 C519.5,367.2 520.3,367.2 521.0,367.2 C521.7,367.3 522.5,367.3 523.2,367.3 C523.9,367.4 524.7,367.6 525.4,367.7 C526.1,367.8 526.9,367.9 527.6,368.0 C528.3,368.1 529.1,368.3 529.8,368.4 C530.5,368.4 531.3,368.1 532.0,368.1 C532.7,368.1 533.5,368.4 534.2,368.4 C534.9,368.5 535.7,368.3 536.4,368.3 C537.1,368.3 537.9,368.3 538.6,368.4 C539.3,368.4 540.1,368.7 540.8,368.7 C541.5,368.8 542.3,368.6 543.0,368.6 C543.7,368.6 544.5,368.6 545.2,368.7 C545.9,368.8 546.7,368.9 547.4,369.0 C548.1,369.2 548.9,369.5 549.6,369.7 C550.3,369.9 551.1,369.9 551.8,370.0 C552.5,370.2 553.3,370.5 554.0,370.7 C554.7,370.9 555.5,371.1 556.2,371.3 C556.9,371.5 557.7,371.7 558.4,371.9 C559.1,372.0 559.9,372.1 560.6,372.2 C561.3,372.2 562.1,372.1 562.8,372.1 C563.5,372.1 564.3,372.2 565.0,372.2 C565.7,372.2 566.5,372.2 567.2,372.2 C567.9,372.3 568.7,372.5 569.4,372.6 C570.1,372.6 570.9,372.5 571.6,372.5 C572.3,372.5 573.1,372.6 573.8,372.7 C574.5,372.7 575.3,372.8 576.0,372.8 C576.7,372.8 577.5,372.5 578.2,372.5 C578.9,372.5 579.7,372.7 580.4,372.8 C581.1,372.9 581.9,373.1 582.6,373.2 C583.3,373.2 584.1,373.3 584.8,373.2 C585.5,373.2 586.3,373.0 587.0,372.9 C587.7,372.9 587.0,372.5 589.2,373.0 C594.3,373.6 612.8,375.7 617.5,376.2" fill="none" stroke="#ee00ee" stroke-width="2.1" stroke-linejoin="round" />
<path d="M66.5,281.5 C78.8,281.7 119.4,282.1 140.0,282.5 C160.6,282.9 177.6,283.4 190.0,283.6 C202.4,283.8 209.5,283.3 214.2,283.6 C218.2,283.9 215.8,285.1 218.2,285.6 C220.5,286.1 224.2,286.7 228.3,286.6 C232.4,286.5 235.4,285.8 242.5,285.2 C249.6,284.6 256.1,283.8 270.7,283.2 C285.3,282.6 311.0,282.1 330.0,281.6 C349.0,281.1 375.2,279.8 384.6,280.0 C386.6,280.2 385.8,282.3 386.6,282.8 C387.4,283.3 388.6,283.6 389.6,283.2 C390.6,282.8 389.6,281.0 392.6,280.6 C397.7,280.2 408.8,280.8 420.0,281.0 C431.2,281.2 453.0,281.3 460.0,281.6 C462.1,281.9 460.4,282.8 462.1,282.6 C463.8,282.4 462.1,281.2 470.2,280.6 C478.3,280.0 497.1,279.6 510.5,279.2 C524.0,278.8 537.6,278.7 550.9,278.5 C564.1,278.3 578.9,278.0 590.0,277.9 C601.1,277.8 612.9,278.0 617.5,278.0" fill="none" stroke="#cccc00" stroke-width="2.1" stroke-linejoin="round" />
<polyline points="214.6,292.1 215.2,308.2 217.2,310.3 220.3,315.3 227.3,315.9 228.3,308.2" fill="none" stroke="#ff0000" stroke-width="2.1" stroke-linejoin="round" />
<polyline points="415.7,297.6 416.0,298.3 417.4,309.1" fill="none" stroke="#ff0000" stroke-width="2.1" stroke-linejoin="round" />
<polyline points="431.1,301.2 431.6,302.6 433.3,310.6 436.2,312.7" fill="none" stroke="#ff0000" stroke-width="2.1" stroke-linejoin="round" />
<polyline points="450.3,301.2 450.6,302.6 451.8,305.5 452.3,303.3" fill="none" stroke="#ff0000" stroke-width="2.1" stroke-linejoin="round" />
<polyline points="457.5,301.2 457.8,302.6 459.3,307.7" fill="none" stroke="#ff0000" stroke-width="2.1" stroke-linejoin="round" />
<polyline points="66.5,279.6 140.0,280.2 200.0,281.0 213.8,280.6 214.4,286.0 214.6,292.1" fill="none" stroke="#00ee00" stroke-width="2.1" stroke-linejoin="round" />
<polyline points="229.3,288.0 231.4,282.6 240.4,282.6 270.7,281.6 330.0,280.0 384.6,278.5 388.6,280.0 394.6,279.2 414.5,279.5 415.7,297.6" fill="none" stroke="#00ee00" stroke-width="2.1" stroke-linejoin="round" />
<polyline points="418.9,287.5 420.3,281.0 424.6,278.8 429.0,279.5 431.1,301.2" fill="none" stroke="#00ee00" stroke-width="2.1" stroke-linejoin="round" />
<polyline points="437.3,290.4 439.1,281.7 441.9,279.5 447.7,279.5 449.2,289.6 450.3,301.2" fill="none" stroke="#00ee00" stroke-width="2.1" stroke-linejoin="round" />
<polyline points="452.8,301.2 454.9,281.7 456.1,281.7 457.5,301.2" fill="none" stroke="#00ee00" stroke-width="2.1" stroke-linejoin="round" />
<polyline points="460.0,286.0 462.2,281.0 467.9,278.8 490.0,277.4 510.5,276.5 550.9,275.5 586.0,275.4 589.0,276.6 594.0,275.6 617.5,275.8" fill="none" stroke="#00ee00" stroke-width="2.1" stroke-linejoin="round" />
</g>
<g shape-rendering="crispEdges" stroke-width="1"><line x1="65" y1="380.5" x2="620" y2="380.5" stroke="#de4f4f" stroke-opacity="0.32"/><line x1="65" y1="363.5" x2="620" y2="363.5" stroke="#8f8f8f" stroke-opacity="0.22"/><line x1="65" y1="346.5" x2="620" y2="346.5" stroke="#de4f4f" stroke-opacity="0.32"/><line x1="65" y1="329.5" x2="620" y2="329.5" stroke="#8f8f8f" stroke-opacity="0.22"/><line x1="65" y1="312.5" x2="620" y2="312.5" stroke="#de4f4f" stroke-opacity="0.32"/><line x1="65" y1="295.5" x2="620" y2="295.5" stroke="#8f8f8f" stroke-opacity="0.22"/><line x1="65" y1="278.5" x2="620" y2="278.5" stroke="#de4f4f" stroke-opacity="0.32"/><line x1="65" y1="261.5" x2="620" y2="261.5" stroke="#8f8f8f" stroke-opacity="0.22"/><line x1="65" y1="244.5" x2="620" y2="244.5" stroke="#de4f4f" stroke-opacity="0.32"/><line x1="65" y1="227.5" x2="620" y2="227.5" stroke="#8f8f8f" stroke-opacity="0.22"/><line x1="65" y1="210.5" x2="620" y2="210.5" stroke="#de4f4f" stroke-opacity="0.32"/><line x1="65" y1="193.5" x2="620" y2="193.5" stroke="#8f8f8f" stroke-opacity="0.22"/><line x1="65" y1="176.5" x2="620" y2="176.5" stroke="#de4f4f" stroke-opacity="0.32"/><line x1="65" y1="159.5" x2="620" y2="159.5" stroke="#8f8f8f" stroke-opacity="0.22"/><line x1="65" y1="142.5" x2="620" y2="142.5" stroke="#de4f4f" stroke-opacity="0.32"/><line x1="65" y1="125.5" x2="620" y2="125.5" stroke="#8f8f8f" stroke-opacity="0.22"/><line x1="65" y1="108.5" x2="620" y2="108.5" stroke="#de4f4f" stroke-opacity="0.32"/><line x1="65" y1="91.5" x2="620" y2="91.5" stroke="#8f8f8f" stroke-opacity="0.22"/><line x1="65" y1="74.5" x2="620" y2="74.5" stroke="#de4f4f" stroke-opacity="0.32"/><line x1="65" y1="57.5" x2="620" y2="57.5" stroke="#8f8f8f" stroke-opacity="0.22"/><line x1="65" y1="40.5" x2="620" y2="40.5" stroke="#de4f4f" stroke-opacity="0.32"/><line x1="72.5" y1="31" x2="72.5" y2="387" stroke="#de4f4f" stroke-opacity="0.32"/><line x1="84.5" y1="32" x2="84.5" y2="386" stroke="#8f8f8f" stroke-opacity="0.22"/><line x1="95.5" y1="32" x2="95.5" y2="386" stroke="#8f8f8f" stroke-opacity="0.22"/><line x1="107.5" y1="32" x2="107.5" y2="386" stroke="#8f8f8f" stroke-opacity="0.22"/><line x1="118.5" y1="31" x2="118.5" y2="387" stroke="#de4f4f" stroke-opacity="0.32"/><line x1="130.5" y1="32" x2="130.5" y2="386" stroke="#8f8f8f" stroke-opacity="0.22"/><line x1="141.5" y1="32" x2="141.5" y2="386" stroke="#8f8f8f" stroke-opacity="0.22"/><line x1="152.5" y1="32" x2="152.5" y2="386" stroke="#8f8f8f" stroke-opacity="0.22"/><line x1="164.5" y1="31" x2="164.5" y2="387" stroke="#de4f4f" stroke-opacity="0.32"/><line x1="175.5" y1="32" x2="175.5" y2="386" stroke="#8f8f8f" stroke-opacity="0.22"/><line x1="187.5" y1="32" x2="187.5" y2="386" stroke="#8f8f8f" stroke-opacity="0.22"/><line x1="198.5" y1="32" x2="198.5" y2="386" stroke="#8f8f8f" stroke-opacity="0.22"/><line x1="210.5" y1="31" x2="210.5" y2="387" stroke="#de4f4f" stroke-opacity="0.32"/><line x1="221.5" y1="32" x2="221.5" y2="386" stroke="#8f8f8f" stroke-opacity="0.22"/><line x1="233.5" y1="32" x2="233.5" y2="386" stroke="#8f8f8f" stroke-opacity="0.22"/><line x1="244.5" y1="32" x2="244.5" y2="386" stroke="#8f8f8f" stroke-opacity="0.22"/><line x1="256.5" y1="31" x2="256.5" y2="387" stroke="#de4f4f" stroke-opacity="0.32"/><line x1="267.5" y1="32" x2="267.5" y2="386" stroke="#8f8f8f" stroke-opacity="0.22"/><line x1="278.5" y1="32" x2="278.5" y2="386" stroke="#8f8f8f" stroke-opacity="0.22"/><line x1="290.5" y1="32" x2="290.5" y2="386" stroke="#8f8f8f" stroke-opacity="0.22"/><line x1="301.5" y1="31" x2="301.5" y2="387" stroke="#de4f4f" stroke-opacity="0.32"/><line x1="313.5" y1="32" x2="313.5" y2="386" stroke="#8f8f8f" stroke-opacity="0.22"/><line x1="324.5" y1="32" x2="324.5" y2="386" stroke="#8f8f8f" stroke-opacity="0.22"/><line x1="336.5" y1="32" x2="336.5" y2="386" stroke="#8f8f8f" stroke-opacity="0.22"/><line x1="347.5" y1="31" x2="347.5" y2="387" stroke="#de4f4f" stroke-opacity="0.32"/><line x1="359.5" y1="32" x2="359.5" y2="386" stroke="#8f8f8f" stroke-opacity="0.22"/><line x1="370.5" y1="32" x2="370.5" y2="386" stroke="#8f8f8f" stroke-opacity="0.22"/><line x1="382.5" y1="32" x2="382.5" y2="386" stroke="#8f8f8f" stroke-opacity="0.22"/><line x1="393.5" y1="31" x2="393.5" y2="387" stroke="#de4f4f" stroke-opacity="0.32"/><line x1="405.5" y1="32" x2="405.5" y2="386" stroke="#8f8f8f" stroke-opacity="0.22"/><line x1="416.5" y1="32" x2="416.5" y2="386" stroke="#8f8f8f" stroke-opacity="0.22"/><line x1="427.5" y1="32" x2="427.5" y2="386" stroke="#8f8f8f" stroke-opacity="0.22"/><line x1="439.5" y1="31" x2="439.5" y2="387" stroke="#de4f4f" stroke-opacity="0.32"/><line x1="450.5" y1="32" x2="450.5" y2="386" stroke="#8f8f8f" stroke-opacity="0.22"/><line x1="462.5" y1="32" x2="462.5" y2="386" stroke="#8f8f8f" stroke-opacity="0.22"/><line x1="473.5" y1="32" x2="473.5" y2="386" stroke="#8f8f8f" stroke-opacity="0.22"/><line x1="485.5" y1="31" x2="485.5" y2="387" stroke="#de4f4f" stroke-opacity="0.32"/><line x1="496.5" y1="32" x2="496.5" y2="386" stroke="#8f8f8f" stroke-opacity="0.22"/><line x1="508.5" y1="32" x2="508.5" y2="386" stroke="#8f8f8f" stroke-opacity="0.22"/><line x1="519.5" y1="32" x2="519.5" y2="386" stroke="#8f8f8f" stroke-opacity="0.22"/><line x1="531.5" y1="31" x2="531.5" y2="387" stroke="#de4f4f" stroke-opacity="0.32"/><line x1="542.5" y1="32" x2="542.5" y2="386" stroke="#8f8f8f" stroke-opacity="0.22"/><line x1="553.5" y1="32" x2="553.5" y2="386" stroke="#8f8f8f" stroke-opacity="0.22"/><line x1="565.5" y1="32" x2="565.5" y2="386" stroke="#8f8f8f" stroke-opacity="0.22"/><line x1="576.5" y1="31" x2="576.5" y2="387" stroke="#de4f4f" stroke-opacity="0.32"/><line x1="588.5" y1="32" x2="588.5" y2="386" stroke="#8f8f8f" stroke-opacity="0.22"/><line x1="599.5" y1="32" x2="599.5" y2="386" stroke="#8f8f8f" stroke-opacity="0.22"/><line x1="611.5" y1="32" x2="611.5" y2="386" stroke="#8f8f8f" stroke-opacity="0.22"/></g>
<g shape-rendering="crispEdges" stroke="#1f1f1f" stroke-opacity="0.72" stroke-width="1">
<line x1="63" y1="383.5" x2="621" y2="383.5"/>
<line x1="67.5" y1="29" x2="67.5" y2="388"/>
<line x1="617.5" y1="29" x2="617.5" y2="388"/>
</g>
<polygon points="64.5,31 70.5,31 67.5,26" fill="#801f1f"/>
<polygon points="614.5,31 620.5,31 617.5,26" fill="#801f1f"/>
<polygon points="619,380.5 619,386.5 624.5,383.5" fill="#801f1f"/>
<rect x="16.5" y="407.5" width="8" height="8" fill="#ee0000" stroke="#000" stroke-width="1" shape-rendering="crispEdges"/>
<rect x="114.5" y="407.5" width="8" height="8" fill="#00006a" stroke="#000" stroke-width="1" shape-rendering="crispEdges"/>
<rect x="219.5" y="407.5" width="8" height="8" fill="#ff82a8" stroke="#000" stroke-width="1" shape-rendering="crispEdges"/>
<rect x="338.5" y="407.5" width="8" height="8" fill="#0000ee" stroke="#000" stroke-width="1" shape-rendering="crispEdges"/>
<rect x="471.5" y="407.5" width="8" height="8" fill="#aa0000" stroke="#000" stroke-width="1" shape-rendering="crispEdges"/>
<rect x="583.5" y="407.5" width="8" height="8" fill="#8b008b" stroke="#000" stroke-width="1" shape-rendering="crispEdges"/>
<rect x="16.5" y="421.5" width="8" height="8" fill="#ff00ff" stroke="#000" stroke-width="1" shape-rendering="crispEdges"/>
<rect x="124.5" y="421.5" width="8" height="8" fill="#0000ff" stroke="#000" stroke-width="1" shape-rendering="crispEdges"/>
<rect x="246.5" y="421.5" width="8" height="8" fill="#ee00ee" stroke="#000" stroke-width="1" shape-rendering="crispEdges"/>
<rect x="368.5" y="421.5" width="8" height="8" fill="#888888" stroke="#000" stroke-width="1" shape-rendering="crispEdges"/>
<rect x="483.5" y="421.5" width="8" height="8" fill="#cccc00" stroke="#000" stroke-width="1" shape-rendering="crispEdges"/>
<rect x="598.5" y="421.5" width="8" height="8" fill="#ff0000" stroke="#000" stroke-width="1" shape-rendering="crispEdges"/>
<rect x="16.5" y="435.5" width="8" height="8" fill="#00ee00" stroke="#000" stroke-width="1" shape-rendering="crispEdges"/>
<g fill="#000" style="white-space:pre;filter:grayscale(1);text-rendering:geometricPrecision">
<text transform="translate(350.30,21.00) scale(0.9618,1)" font-size="13.81" text-anchor="middle" xml:space="preserve">Temperaturverlauf und Fuellstand am: 24.03.2018, Stand 23:45Uhr</text>
<text transform="translate(60.90,384.20) scale(0.9252,1)" font-size="11.08" text-anchor="end" xml:space="preserve">0</text>
<text transform="translate(654.90,384.20) scale(0.9252,1)" font-size="11.08" text-anchor="end" xml:space="preserve">0</text>
<text transform="translate(60.90,350.20) scale(0.9252,1)" font-size="11.08" text-anchor="end" xml:space="preserve">10</text>
<text transform="translate(654.90,350.20) scale(0.9252,1)" font-size="11.08" text-anchor="end" xml:space="preserve">10</text>
<text transform="translate(60.90,316.20) scale(0.9252,1)" font-size="11.08" text-anchor="end" xml:space="preserve">20</text>
<text transform="translate(654.90,316.20) scale(0.9252,1)" font-size="11.08" text-anchor="end" xml:space="preserve">20</text>
<text transform="translate(60.90,282.20) scale(0.9252,1)" font-size="11.08" text-anchor="end" xml:space="preserve">30</text>
<text transform="translate(654.90,282.20) scale(0.9252,1)" font-size="11.08" text-anchor="end" xml:space="preserve">30</text>
<text transform="translate(60.90,248.20) scale(0.9252,1)" font-size="11.08" text-anchor="end" xml:space="preserve">40</text>
<text transform="translate(654.90,248.20) scale(0.9252,1)" font-size="11.08" text-anchor="end" xml:space="preserve">40</text>
<text transform="translate(60.90,214.20) scale(0.9252,1)" font-size="11.08" text-anchor="end" xml:space="preserve">50</text>
<text transform="translate(654.90,214.20) scale(0.9252,1)" font-size="11.08" text-anchor="end" xml:space="preserve">50</text>
<text transform="translate(60.90,180.20) scale(0.9252,1)" font-size="11.08" text-anchor="end" xml:space="preserve">60</text>
<text transform="translate(654.90,180.20) scale(0.9252,1)" font-size="11.08" text-anchor="end" xml:space="preserve">60</text>
<text transform="translate(60.90,146.20) scale(0.9252,1)" font-size="11.08" text-anchor="end" xml:space="preserve">70</text>
<text transform="translate(654.90,146.20) scale(0.9252,1)" font-size="11.08" text-anchor="end" xml:space="preserve">70</text>
<text transform="translate(60.90,112.20) scale(0.9252,1)" font-size="11.08" text-anchor="end" xml:space="preserve">80</text>
<text transform="translate(654.90,112.20) scale(0.9252,1)" font-size="11.08" text-anchor="end" xml:space="preserve">80</text>
<text transform="translate(60.90,78.20) scale(0.9252,1)" font-size="11.08" text-anchor="end" xml:space="preserve">90</text>
<text transform="translate(654.90,78.20) scale(0.9252,1)" font-size="11.08" text-anchor="end" xml:space="preserve">90</text>
<text transform="translate(60.90,44.20) scale(0.9252,1)" font-size="11.08" text-anchor="end" xml:space="preserve">100</text>
<text transform="translate(654.90,44.20) scale(0.9252,1)" font-size="11.08" text-anchor="end" xml:space="preserve">100</text>
<text transform="translate(72.73,397.60) scale(0.9056,1)" font-size="11.08" text-anchor="middle" xml:space="preserve">Sat 00:00</text>
<text transform="translate(210.23,397.60) scale(0.9056,1)" font-size="11.08" text-anchor="middle" xml:space="preserve">Sat 06:00</text>
<text transform="translate(347.73,397.60) scale(0.9056,1)" font-size="11.08" text-anchor="middle" xml:space="preserve">Sat 12:00</text>
<text transform="translate(485.23,397.60) scale(0.9056,1)" font-size="11.08" text-anchor="middle" xml:space="preserve">Sat 18:00</text>
<text transform="translate(18.30,211.00) rotate(-90) scale(0.9267,1)" font-size="12.44" text-anchor="start" xml:space="preserve">C</text>
<text transform="translate(685.60,6.30) rotate(90) scale(1.0023,1)" font-size="8.35" text-anchor="start" fill="#a4a4a4" xml:space="preserve">RRDTOOL / TOBI OETIKER</text>
<text transform="translate(30.10,415.00) scale(0.9669,1)" font-size="12.06" text-anchor="start" xml:space="preserve">VL Kessel</text>
<text transform="translate(127.90,415.00) scale(0.9669,1)" font-size="12.06" text-anchor="start" xml:space="preserve">RL Kessel</text>
<text transform="translate(233.00,415.00) scale(0.9669,1)" font-size="12.06" text-anchor="start" xml:space="preserve">VL Heizung</text>
<text transform="translate(352.00,415.00) scale(0.9669,1)" font-size="12.06" text-anchor="start" xml:space="preserve">RL Heizung</text>
<text transform="translate(484.90,415.00) scale(0.9669,1)" font-size="12.06" text-anchor="start" xml:space="preserve">Puffer Oben</text>
<text transform="translate(597.00,415.00) scale(0.9669,1)" font-size="12.06" text-anchor="start" xml:space="preserve">Puffer Mitte</text>
<text transform="translate(30.10,429.00) scale(0.9669,1)" font-size="12.06" text-anchor="start" xml:space="preserve">Luftfeuchte</text>
<text transform="translate(138.20,429.00) scale(0.9669,1)" font-size="12.06" text-anchor="start" xml:space="preserve">AT&gt;5C, FS AUS</text>
<text transform="translate(260.50,429.00) scale(0.9669,1)" font-size="12.06" text-anchor="start" xml:space="preserve">AT&lt;2C, FS EIN</text>
<text transform="translate(381.90,429.00) scale(0.9669,1)" font-size="12.06" text-anchor="start" xml:space="preserve">Kessel-P AUS</text>
<text transform="translate(496.70,429.00) scale(0.9669,1)" font-size="12.06" text-anchor="start" xml:space="preserve">Kessel-P EIN</text>
<text transform="translate(612.30,429.00) scale(0.9669,1)" font-size="12.06" text-anchor="start" xml:space="preserve">Heiz-P AUS</text>
<text transform="translate(30.10,443.00) scale(0.9669,1)" font-size="12.06" text-anchor="start" xml:space="preserve">Heiz-P EIN</text>
<text transform="translate(120.00,443.00) scale(0.9669,1)" font-size="12.06" text-anchor="start" xml:space="preserve">akt.rH: 0.00</text>
<text transform="translate(223.80,443.00) scale(0.9669,1)" font-size="12.06" text-anchor="start" xml:space="preserve">akt.AT: 1.38 C</text>
<text transform="translate(341.80,443.00) scale(0.9669,1)" font-size="12.06" text-anchor="start" xml:space="preserve">min/maxAT24h:-0.56</text>
<text transform="translate(471.30,443.00) scale(0.9669,1)" font-size="12.06" text-anchor="start" xml:space="preserve">/ 8.44</text>
<text transform="translate(534.10,443.00) scale(0.9669,1)" font-size="12.06" text-anchor="start" xml:space="preserve">akt.Fuellstand:   37</text>
<text transform="translate(16.20,456.50) scale(0.9669,1)" font-size="12.06" text-anchor="start" xml:space="preserve">Aquarium:22.66 C</text>
<text transform="translate(144.20,456.50) scale(0.9669,1)" font-size="12.06" text-anchor="start" xml:space="preserve">min/max:22.41/22.84</text>
</g>
</svg>
</div>
</body></html>
